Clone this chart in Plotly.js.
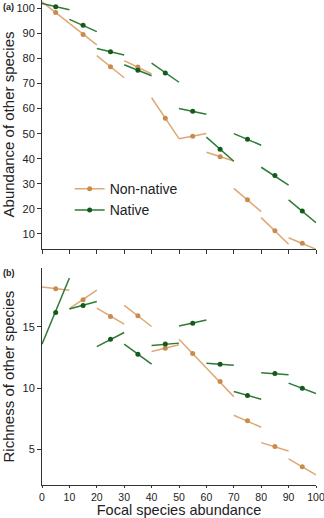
<!DOCTYPE html>
<html><head><meta charset="utf-8">
<script src="https://cdn.plot.ly/plotly-3.0.1.min.js"></script>
<style>html,body{margin:0;padding:0;background:#fff}#c{width:324px;height:518px}</style>
</head><body><div id="c"></div>
<script>
// Bin midpoints of focal species abundance
const binMid = [5, 15, 25, 35, 45, 55, 65, 75, 85, 95];
const binHalf = 5;

// Panel (a): abundance of other species
const abundNonNative      = [98.3, 89.5, 76.7, 76.6, 56.1, 49.0, 40.8, 23.6, 11.3, 6.3];
const abundNonNativeStart = [102.6, 94.0, 81.1, 79.1, 64.3, 48.0, 42.6, 28.2, 16.5, 8.5];
const abundNonNativeEnd   = [94.0, 85.4, 72.3, 73.8, 48.0, 50.1, 39.1, 18.9, 5.9, 3.9];
const abundNative      = [100.6, 93.2, 82.7, 75.3, 74.2, 58.9, 43.8, 47.8, 33.3, 19.2];
const abundNativeStart = [101.9, 95.6, 84.0, 77.5, 78.1, 60.0, 48.6, 50.0, 36.6, 23.6];
const abundNativeEnd   = [99.4, 90.7, 81.4, 73.1, 70.5, 57.7, 39.0, 45.4, 29.5, 14.5];

// Panel (b): richness of other species
const richNonNative      = [18.12, 17.22, 15.86, 15.91, 13.27, 12.83, 10.54, 7.33, 5.23, 3.59];
const richNonNativeStart = [18.26, 16.5, 16.54, 16.76, 13.0, 14.0, 11.64, 7.79, 5.55, 4.22];
const richNonNativeEnd   = [18.0, 18.0, 15.23, 15.04, 13.54, 11.64, 9.31, 6.81, 4.87, 2.91];
const richNative      = [16.18, 16.76, 14.0, 12.78, 13.6, 15.31, 11.96, 9.4, 11.19, 10.0];
const richNativeStart = [13.6, 16.46, 13.4, 13.6, 13.48, 15.07, 12.04, 9.72, 11.25, 10.41];
const richNativeEnd   = [19.0, 17.08, 14.55, 11.96, 13.68, 15.56, 11.88, 9.1, 11.09, 9.56];

const xTicks = [0,10,20,30,40,50,60,70,80,90,100];
const yTicksA = [10,20,30,40,50,60,70,80,90,100];
const yTicksB = [5,10,15];
const seriesNames = ['Non-native', 'Native'];

const orangeLine = '#DDA874', orangeMark = '#C98C4E';
const greenLine = '#2F7A35', greenMark = '#145A1E';

function segs(mid, start, end) {
  const x = [], y = [];
  mid.forEach((m, i) => { x.push(binMid[i]-binHalf, binMid[i]+binHalf, null); y.push(start[i], end[i], null); });
  return {x, y};
}
function lineTrace(s, color, xa, ya) {
  return {x: s.x, y: s.y, mode: 'lines', line: {color, width: 1.5}, xaxis: xa, yaxis: ya, showlegend: false, hoverinfo: 'skip', cliponaxis: false};
}
function markTrace(vals, color, xa, ya) {
  return {x: binMid, y: vals, mode: 'markers', marker: {color, size: 5}, xaxis: xa, yaxis: ya, showlegend: false, cliponaxis: false};
}

const data = [
  lineTrace(segs(abundNonNative, abundNonNativeStart, abundNonNativeEnd), orangeLine, 'x', 'y'),
  lineTrace(segs(abundNative, abundNativeStart, abundNativeEnd), greenLine, 'x', 'y'),
  markTrace(abundNonNative, orangeMark, 'x', 'y'),
  markTrace(abundNative, greenMark, 'x', 'y'),
  lineTrace(segs(richNonNative, richNonNativeStart, richNonNativeEnd), orangeLine, 'x2', 'y2'),
  lineTrace(segs(richNative, richNativeStart, richNativeEnd), greenLine, 'x2', 'y2'),
  markTrace(richNonNative, orangeMark, 'x2', 'y2'),
  markTrace(richNative, greenMark, 'x2', 'y2'),
  {x: [null], y: [null], mode: 'lines+markers', name: seriesNames[0], line: {color: orangeLine, width: 1.5}, marker: {color: orangeMark, size: 5}, xaxis: 'x', yaxis: 'y'},
  {x: [null], y: [null], mode: 'lines+markers', name: seriesNames[1], line: {color: greenLine, width: 1.5}, marker: {color: greenMark, size: 5}, xaxis: 'x', yaxis: 'y'}
];

const font = {family: 'Liberation Sans, Arial, sans-serif', color: '#222'};
const axBase = {showgrid: false, zeroline: false, showline: true, linecolor: '#333', linewidth: 1, ticks: 'outside', ticklen: 4, tickcolor: '#333', tickfont: {size: 11, color: '#222'}};

const layout = {
  width: 324, height: 518,
  margin: {l: 41.5, r: 8, t: 0, b: 33},
  paper_bgcolor: '#fff', plot_bgcolor: '#fff',
  font: font,
  showlegend: true,
  legend: {x: 0.101, y: 0.643, xanchor: 'left', yanchor: 'top', bgcolor: 'rgba(0,0,0,0)', font: {size: 14, color: '#222'}, tracegroupgap: 0},
  xaxis: Object.assign({}, axBase, {range: [0, 100], tickvals: xTicks, showticklabels: false, anchor: 'y', domain: [0, 1]}),
  yaxis: Object.assign({}, axBase, {range: [4, 103.3], tickvals: yTicksA, domain: [0.4866, 1], anchor: 'x',
    title: {text: 'Abundance of other species', font: {size: 15, color: '#222'}, standoff: 6}}),
  xaxis2: Object.assign({}, axBase, {range: [0, 100], tickvals: xTicks, anchor: 'y2', domain: [0, 1], ticklen: 2, ticklabeloverflow: 'allow',
    tickfont: {size: 10.5, color: '#222'},
    title: {text: 'Focal species abundance', font: {size: 14.5, color: '#222'}, standoff: 7}}),
  yaxis2: Object.assign({}, axBase, {range: [2.09, 19.8], tickvals: yTicksB, domain: [0, 0.447], anchor: 'x2',
    title: {text: 'Richness of other species', font: {size: 15, color: '#222'}, standoff: 14}}),
  annotations: [
    {text: '<b>(a)</b>', xref: 'paper', yref: 'paper', x: -0.15, y: 1, xanchor: 'left', yanchor: 'top', showarrow: false, font: {size: 9, color: '#222'}},
    {text: '<b>(b)</b>', xref: 'paper', yref: 'paper', x: -0.15, y: 0.452, xanchor: 'left', yanchor: 'top', showarrow: false, font: {size: 9, color: '#222'}}
  ]
};

Plotly.newPlot('c', data, layout, {displayModeBar: false, staticPlot: true});
</script></body></html>
